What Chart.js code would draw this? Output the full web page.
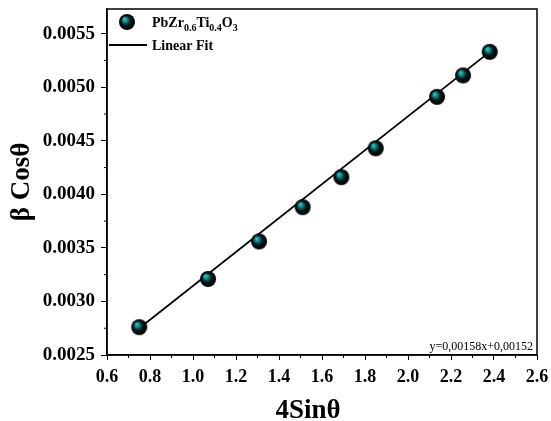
<!DOCTYPE html>
<html>
<head>
<meta charset="utf-8">
<script src="https://cdn.jsdelivr.net/npm/chart.js@4.4.1/dist/chart.umd.min.js"></script>
<style>
  html, body { margin: 0; padding: 0; background: #fff; }
  #wrap { width: 551px; height: 421px; }
</style>
</head>
<body>
<div id="wrap"><canvas id="sizeChart"></canvas></div>
<script>
// --- DATA ---
const xValues = [0.75, 1.07, 1.307, 1.51, 1.69, 1.85, 2.135, 2.256, 2.38];
const yValues = [0.00276, 0.00321, 0.00356, 0.00388, 0.00416, 0.00443, 0.00491, 0.00511, 0.00533];
const fitX = [0.75, 2.38];
const fitY = [0.00275, 0.00533];
const xTicks = [0.6, 0.8, 1.0, 1.2, 1.4, 1.6, 1.8, 2.0, 2.2, 2.4, 2.6];
const yTicks = [0.0025, 0.0030, 0.0035, 0.0040, 0.0045, 0.0050, 0.0055];
const xTitle = '4Sinθ';
const fitLabel = 'y=0,00158x+0,00152';

const serif = '"Liberation Serif", "Times New Roman", serif';

// shiny ball marker
const makeBall = (r) => {
    const c = document.createElement('canvas');
    c.width = c.height = r * 2 + 2;
    const g = c.getContext('2d');
    const cx = r + 1, cy = r + 1;
    const grad = g.createRadialGradient(cx - r * 0.35, cy - r * 0.4, 0, cx, cy, r);
    grad.addColorStop(0, '#3fd6d2');
    grad.addColorStop(0.28, '#138a8a');
    grad.addColorStop(0.6, '#051818');
    grad.addColorStop(1, '#000');
    g.fillStyle = grad;
    g.beginPath();
    g.arc(cx, cy, r, 0, Math.PI * 2);
    g.fill();
    return c;
};
const ball = makeBall(8);

// frame, minor ticks, legend, x title and equation
const decorPlugin = {
    id: 'decor',
    afterDraw(chart) {
        const { ctx, chartArea: a, scales } = chart;
        ctx.save();
        ctx.strokeStyle = '#000';
        ctx.lineWidth = 1.5;
        ctx.strokeRect(a.left, a.top, a.right - a.left, a.bottom - a.top);

        // minor ticks
        ctx.lineWidth = 1;
        for (let i = 0; i < xTicks.length - 1; i++) {
            const px = scales.x.getPixelForValue((xTicks[i] + xTicks[i + 1]) / 2);
            ctx.beginPath(); ctx.moveTo(px, a.bottom); ctx.lineTo(px, a.bottom + 3); ctx.stroke();
        }
        yTicks.map(v => v + 0.00025).forEach(v => {
            const py = scales.y.getPixelForValue(v);
            if (py < a.top) return;
            ctx.beginPath(); ctx.moveTo(a.left, py); ctx.lineTo(a.left - 3, py); ctx.stroke();
        });

        // legend
        ctx.drawImage(ball, 118, 13);
        ctx.lineWidth = 1.8;
        ctx.beginPath(); ctx.moveTo(109, 45); ctx.lineTo(147, 45); ctx.stroke();
        ctx.fillStyle = '#000';
        ctx.textBaseline = 'alphabetic';
        let x = 152;
        const parts = [['PbZr', 0], ['0.6', 1], ['Ti', 0], ['0.4', 1], ['O', 0], ['3', 1]];
        parts.forEach(([t, sub]) => {
            ctx.font = 'bold ' + (sub ? 10 : 14) + 'px ' + serif;
            ctx.fillText(t, x, sub ? 31 : 27);
            x += ctx.measureText(t).width;
        });
        ctx.font = 'bold 14px ' + serif;
        ctx.fillText('Linear Fit', 152, 50);

        // x axis title
        ctx.font = 'bold 27px ' + serif;
        ctx.textAlign = 'center';
        ctx.fillText(xTitle, 308, 418);

        ctx.font = '12px ' + serif;
        ctx.textAlign = 'right';
        ctx.fillText(fitLabel, a.right - 4, a.bottom - 5);
        ctx.restore();
    }
};

const ctx = document.getElementById('sizeChart').getContext('2d');
new Chart(ctx, {
    type: 'scatter',
    data: {
        datasets: [
            {
                label: 'Linear Fit',
                data: fitX.map((v, i) => ({ x: v, y: fitY[i] })),
                showLine: true,
                borderColor: '#000',
                borderWidth: 1.8,
                pointRadius: 0,
                order: 2
            },
            {
                label: 'PbZr0.6Ti0.4O3',
                data: xValues.map((v, i) => ({ x: v, y: yValues[i] })),
                pointStyle: ball,
                pointRadius: 8,
                order: 1
            }
        ]
    },
    options: {
        responsive: true,
        maintainAspectRatio: false,
        animation: false,
        layout: { padding: { left: 0, right: 14, top: 9, bottom: 0 } },
        plugins: { legend: { display: false }, tooltip: { enabled: false } },
        scales: {
            x: {
                type: 'linear',
                min: 0.6,
                max: 2.6,
                afterBuildTicks: (s) => { s.ticks = xTicks.map(v => ({ value: v })); },
                afterFit: (s) => { s.height = 66; s.paddingLeft = 0; s.paddingRight = 0; },
                grid: { drawOnChartArea: false, tickLength: 5, color: '#000' },
                border: { color: '#000', width: 1.5 },
                ticks: {
                    color: '#000',
                    padding: 7,
                    font: { family: serif, size: 18, weight: 'bold' },
                    callback: (v) => v.toFixed(1)
                }
            },
            y: {
                type: 'linear',
                min: 0.0025,
                max: 0.00573,
                afterBuildTicks: (s) => { s.ticks = yTicks.map(v => ({ value: v })); },
                afterFit: (s) => { s.width = 107; s.paddingTop = 0; s.paddingBottom = 0; },
                grid: { drawOnChartArea: false, tickLength: 6, color: '#000' },
                border: { color: '#000', width: 1.5 },
                ticks: {
                    color: '#000',
                    padding: 6,
                    font: { family: serif, size: 19, weight: 'bold' },
                    callback: (v) => v.toFixed(4)
                },
                title: {
                    display: true,
                    text: 'β Cosθ',
                    color: '#000',
                    padding: { top: 6, bottom: 0 },
                    font: { family: serif, size: 27, weight: 'bold' }
                }
            }
        }
    },
    plugins: [decorPlugin]
});
</script>
</body>
</html>
